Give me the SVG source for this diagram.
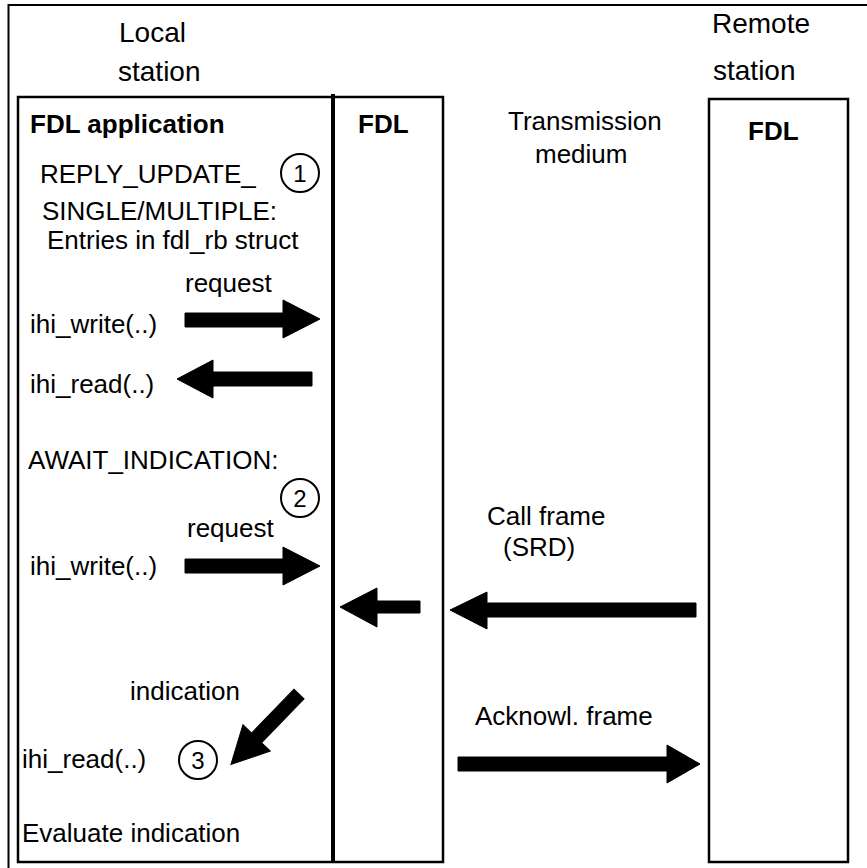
<svg xmlns="http://www.w3.org/2000/svg" width="867" height="868" viewBox="0 0 867 868">
<style>
  text { font-family: "Liberation Sans", Arial, sans-serif; font-size: 26px; fill: #000; }
  .b { font-weight: bold; }
  .top { font-size: 28px; }
  .num { font-size: 24px; text-anchor: middle; }
  .box { fill: #fff; stroke: #000; stroke-width: 2.5; }
  .circ { fill: none; stroke: #000; stroke-width: 2; }
  .arr { fill: #000; stroke: #000; stroke-width: 1; stroke-linejoin: miter; }
</style>
<rect x="0" y="0" width="867" height="868" fill="#fff"/>
<rect id="frame" x="8.5" y="5" width="880" height="880" fill="none" stroke="#000" stroke-width="2"/>
<g id="labels-top">
  <text class="top" x="119" y="42">Local</text>
  <text class="top" x="118" y="81">station</text>
  <text class="top" x="712" y="33">Remote</text>
  <text class="top" x="713" y="80">station</text>
</g>
<g id="local-station">
  <rect class="box" x="18" y="97" width="425" height="765"/>
  <line x1="333" y1="94" x2="333" y2="862" stroke="#000" stroke-width="4"/>
  <g id="fdl-application">
    <text class="b" x="30" y="133">FDL application</text>
    <text x="40" y="183">REPLY_UPDATE_</text>
    <text x="42" y="220">SINGLE/MULTIPLE:</text>
    <text x="47" y="249">Entries in fdl_rb struct</text>
    <text x="185" y="292">request</text>
    <text x="30" y="333">ihi_write(..)</text>
    <text x="30" y="393">ihi_read(..)</text>
    <text x="28" y="469">AWAIT_INDICATION:</text>
    <text x="187" y="537">request</text>
    <text x="30" y="575">ihi_write(..)</text>
    <text x="130" y="700">indication</text>
    <text x="22" y="768">ihi_read(..)</text>
    <text x="22" y="842">Evaluate indication</text>
    <circle class="circ" cx="300" cy="173" r="19"/>
    <text class="num" x="300" y="182">1</text>
    <circle class="circ" cx="300" cy="498" r="19"/>
    <text class="num" x="300" y="507">2</text>
    <circle class="circ" cx="198" cy="760" r="19"/>
    <text class="num" x="198" y="769">3</text>
  </g>
  <g id="fdl-local">
    <text class="b" x="358" y="133">FDL</text>
  </g>
</g>
<g id="medium">
  <text x="508" y="130">Transmission</text>
  <text x="535" y="163">medium</text>
  <text x="487" y="525">Call frame</text>
  <text x="503" y="556">(SRD)</text>
  <text x="475" y="725">Acknowl. frame</text>
</g>
<g id="remote-station">
  <rect class="box" x="709" y="99" width="139" height="763"/>
  <text class="b" x="748" y="140">FDL</text>
</g>
<g id="connectors">
  <polygon class="arr" points="185,313 283,313 283,300 320,319 283,338 283,327 185,327"/>
  <polygon class="arr" points="312,372 213,372 213,360 177,379 213,398 213,386 312,386"/>
  <polygon class="arr" points="185,559 283,559 283,547 320,566 283,585 283,573 185,573"/>
  <polygon class="arr" points="420,601 377,601 377,588 340,607 377,627 377,613 420,613"/>
  <polygon class="arr" points="696,603 487,603 487,592 450,610 487,629 487,617 696,617"/>
  <polygon class="arr" points="458,757 667,757 667,745 700,764 667,783 667,771 458,771"/>
  <polygon class="arr" points="0,-7 61,-7 61,-19 98,0 61,19 61,7 0,7" transform="translate(299,694) rotate(134)"/>
</g>
</svg>
